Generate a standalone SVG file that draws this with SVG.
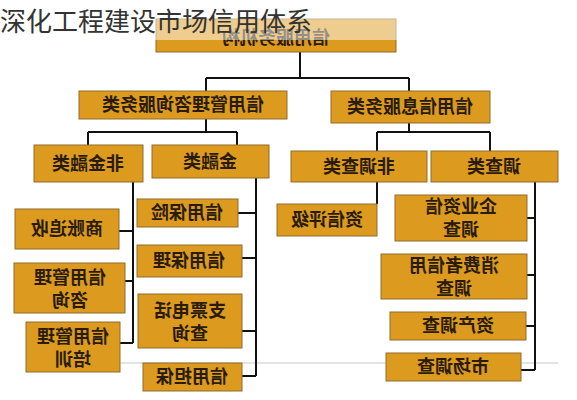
<svg xmlns="http://www.w3.org/2000/svg" width="577" height="400" viewBox="0 0 577 400">
<style>
.box{fill:#dc9a1e;stroke:#8f6d2c;stroke-width:1}
.lbl{font-family:"Noto Sans CJK SC","Noto Sans",sans-serif;font-size:18px;font-weight:bold;fill:#2a1c0c;text-anchor:middle}
.con{fill:none;stroke:#111;stroke-width:2}
.title{font-family:"Noto Sans CJK SC","Noto Sans",sans-serif;font-size:26px;fill:#333}
</style>
<rect width="577" height="400" fill="#fff"/>
<line x1="26" y1="363" x2="558" y2="363" stroke="#c8c8c8" stroke-width="1.2"/>
<g id="connectors">
<path class="con" d="M300,52V78M206,78H409M206,78V91M409,78V91"/>
<path class="con" d="M206,119V132M88,132H237M88,132V145M237,132V145"/>
<path class="con" d="M409,123V132M377,132H490M377,132V151M490,132V151"/>
<path class="con" d="M133,182V343M119,231H133M125,281H133M120,343H133"/>
<path class="con" d="M256,178V376M238,213H256M242,258H256M242,331H256M242,376H256"/>
<path class="con" d="M377,182V204"/>
<path class="con" d="M535,182V370M527,218H535M527,275H535M526,326H535M521,370H535"/>
</g>
<g id="n-top"><rect class="box" x="156" y="19" width="240" height="33"/><text class="lbl" transform="translate(276,44) scale(-1,1)">信用服务机构</text></g>
<g id="n-l2a"><rect class="box" x="79" y="91" width="208" height="28"/><text class="lbl" transform="translate(183,111) scale(-1,1)">信用管理咨询服务类</text></g>
<g id="n-l2b"><rect class="box" x="331" y="91" width="159" height="32"/><text class="lbl" transform="translate(410,113) scale(-1,1)">信用信息服务类</text></g>
<g id="n-nf"><rect class="box" x="34" y="145" width="109" height="37"/><text class="lbl" transform="translate(88,170) scale(-1,1)">非金融类</text></g>
<g id="n-f"><rect class="box" x="152" y="145" width="117" height="33"/><text class="lbl" transform="translate(210,168) scale(-1,1)">金融类</text></g>
<g id="n-nd"><rect class="box" x="291" y="151" width="136" height="31"/><text class="lbl" transform="translate(359,173) scale(-1,1)">非调查类</text></g>
<g id="n-d"><rect class="box" x="431" y="151" width="127" height="31"/><text class="lbl" transform="translate(494,173) scale(-1,1)">调查类</text></g>
<g id="n-shang"><rect class="box" x="15" y="209" width="104" height="40"/><text class="lbl" transform="translate(67,235) scale(-1,1)">商账追收</text></g>
<g id="n-zixun"><rect class="box" x="14" y="263" width="111" height="50"/><text class="lbl" transform="translate(70,284) scale(-1,1)">信用管理</text><text class="lbl" transform="translate(70,307) scale(-1,1)">咨询</text></g>
<g id="n-peixun"><rect class="box" x="26" y="322" width="94" height="50"/><text class="lbl" transform="translate(73,343) scale(-1,1)">信用管理</text><text class="lbl" transform="translate(73,366) scale(-1,1)">培训</text></g>
<g id="n-baoxian"><rect class="box" x="137" y="199" width="101" height="28"/><text class="lbl" transform="translate(187,219) scale(-1,1)">信用保险</text></g>
<g id="n-baoli"><rect class="box" x="137" y="245" width="105" height="32"/><text class="lbl" transform="translate(189,267) scale(-1,1)">信用保理</text></g>
<g id="n-zhipiao"><rect class="box" x="138" y="294" width="104" height="54"/><text class="lbl" transform="translate(190,317) scale(-1,1)">支票电话</text><text class="lbl" transform="translate(190,340) scale(-1,1)">查询</text></g>
<g id="n-danbao"><rect class="box" x="143" y="363" width="99" height="28"/><text class="lbl" transform="translate(192,383) scale(-1,1)">信用担保</text></g>
<g id="n-pingji"><rect class="box" x="277" y="204" width="100" height="32"/><text class="lbl" transform="translate(327,226) scale(-1,1)">资信评级</text></g>
<g id="n-qiye"><rect class="box" x="395" y="195" width="132" height="46"/><text class="lbl" transform="translate(461,213) scale(-1,1)">企业资信</text><text class="lbl" transform="translate(461,236) scale(-1,1)">调查</text></g>
<g id="n-xiaofei"><rect class="box" x="381" y="254" width="146" height="45"/><text class="lbl" transform="translate(454,272) scale(-1,1)">消费者信用</text><text class="lbl" transform="translate(454,295) scale(-1,1)">调查</text></g>
<g id="n-zichan"><rect class="box" x="390" y="312" width="136" height="28"/><text class="lbl" transform="translate(458,332) scale(-1,1)">资产调查</text></g>
<g id="n-shichang"><rect class="box" x="386" y="353" width="135" height="28"/><text class="lbl" transform="translate(453,373) scale(-1,1)">市场调查</text></g>
<rect x="0" y="0" width="577" height="40" fill="#fff" opacity="0.5"/>
<text class="title" x="0" y="31">深化工程建设市场信用体系</text>
</svg>
